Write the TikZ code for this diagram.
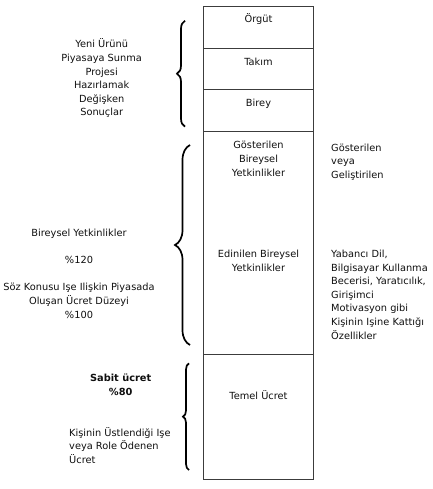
\documentclass[tikz,border=0pt]{standalone}
\usepackage{fontspec}
\setmainfont{DejaVu Sans}
\usepackage{tikz}
\usetikzlibrary{positioning,decorations.pathreplacing}
\definecolor{boxline}{RGB}{60,60,60}
\definecolor{inktext}{RGB}{15,15,15}

\begin{document}
\begin{tikzpicture}[x=1pt,y=-1pt,
  every node/.style={font=\fontsize{9.8}{13.6}\selectfont, text=inktext, inner sep=0pt},
  levelbox/.style={draw=boxline, line width=1pt, minimum width=110pt, outer sep=0pt, anchor=north},
  curly/.style={line width=1.7pt, decorate}]
  \useasboundingbox (0,0) rectangle (432,489);
  % column of levels
  \node[levelbox, minimum height=42.2pt] (orgut) at (258.5,6.5) {};
  \node[levelbox, minimum height=41.3pt, below=0pt of orgut] (takim) {};
  \node[levelbox, minimum height=41.7pt, below=0pt of takim] (birey) {};
  \node[levelbox, minimum height=223pt, below=0pt of birey] (yetkin) {};
  \node[levelbox, minimum height=124.6pt, below=0pt of yetkin] (temel) {};
  \node (orgutlbl) at (258.5,19.3) {Örgüt};
  \node (takimlbl) at (258.5,61.7) {Takım};
  \node (bireylbl) at (258.5,103.3) {Birey};
  \node[align=center] (gosterlbl) at (258.5,158.9) {Gösterilen\\Bireysel\\Yetkinlikler};
  \node[align=center] (edinlbl) at (258.5,260.8) {Edinilen Bireysel\\Yetkinlikler};
  \node (temellbl) at (258.5,395) {Temel Ücret};
  % right side notes
  \node[align=left, anchor=west] (gosternote) at (331,162) {Gösterilen\\veya\\Geliştirilen};
  \node[align=left, anchor=west] (edinnote) at (331,294.7) {Yabancı Dil,\\Bilgisayar Kullanma\\Becerisi, Yaratıcılık,\\Girişimci\\Motivasyon gibi\\Kişinin Işine Kattığı\\Özellikler};
  % left side notes
  \node[align=center] (degisken) at (101.7,78.3) {Yeni Ürünü\\Piyasaya Sunma\\Projesi\\Hazırlamak\\Değişken\\Sonuçlar};
  \node[align=center] (piyasa) at (79,273.7) {Bireysel Yetkinlikler\\[13.6pt]\%120\\[13.6pt]Söz Konusu Işe Ilişkin Piyasada\\Oluşan Ücret Düzeyi\\\%100};
  \node[align=center, font=\fontsize{9.8}{13.6}\selectfont\bfseries] (sabit) at (120.7,384.7) {Sabit ücret\\\%80};
  \node[align=left, anchor=west] (rolnote) at (69,445.3) {Kişinin Üstlendiği Işe\\veya Role Ödenen\\Ücret};
  % braces
  \draw[curly, decoration={brace, amplitude=8pt}] (185,126.7) -- (185,20.7);
  \draw[curly, decoration={brace, amplitude=15pt}] (190,345) -- (190,145);
  \draw[curly, decoration={brace, amplitude=6pt}] (189,470) -- (189,363.3);
\end{tikzpicture}
\end{document}
